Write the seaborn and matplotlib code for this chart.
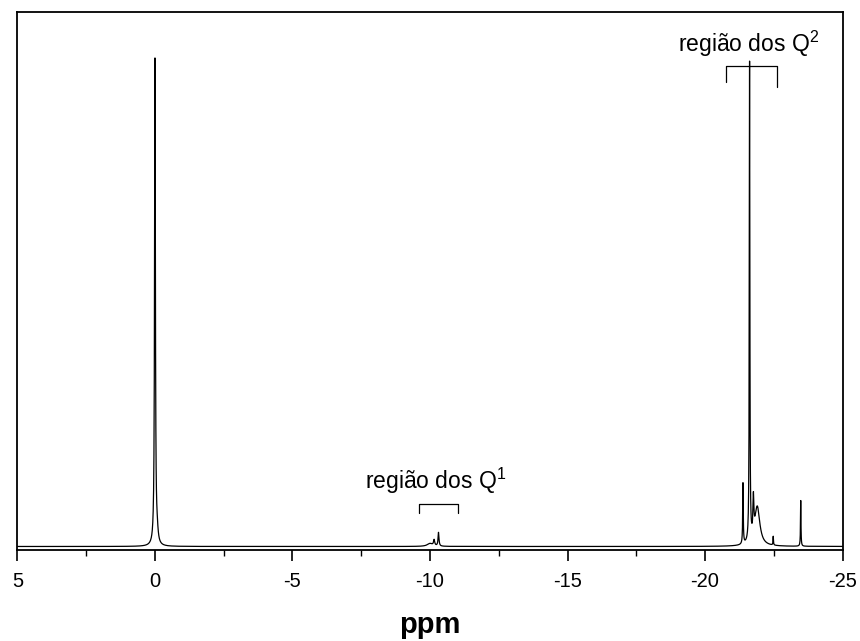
import numpy as np
import pandas as pd
import matplotlib
matplotlib.use("Agg")
import matplotlib.pyplot as plt
import seaborn as sns

# Peak table of the 29Si spectrum: position (ppm), height (relative), half-width (ppm)
peak_ppm = [0.0, -0.08, -10.0, -10.15, -10.31, -21.38, -21.62, -21.76, -21.90, -22.48, -23.48]
peak_height = [1.0, 0.02, 0.006, 0.012, 0.028, 0.125, 0.985, 0.075, 0.08, 0.018, 0.094]
peak_hwhm = [0.018, 0.04, 0.12, 0.025, 0.02, 0.012, 0.012, 0.02, 0.11, 0.01, 0.01]

x_ticks = [5, 0, -5, -10, -15, -20, -25]

ppm = np.linspace(5, -25, 12001)
intensity = np.zeros_like(ppm)
for p, h, w in zip(peak_ppm, peak_height, peak_hwhm):
    intensity += h * w**2 / ((ppm - p) ** 2 + w**2)

df = pd.DataFrame({"ppm": ppm, "intensity": intensity})

sns.set_style("ticks")
plt.rcParams["font.family"] = ["Liberation Sans", "DejaVu Sans"]
plt.rcParams["text.color"] = "black"
plt.rcParams["axes.labelcolor"] = "black"
plt.rcParams["xtick.color"] = "black"
plt.rcParams["mathtext.fontset"] = "custom"
plt.rcParams["mathtext.rm"] = "Liberation Sans"

fig = plt.figure(figsize=(8.6, 6.41), dpi=100)
ax = fig.add_axes([0.0203, 0.142, 0.9594, 0.8397])
sns.lineplot(data=df, x="ppm", y="intensity", color="black", linewidth=0.9, ax=ax)

ax.set_xlim(5, -25)
ax.set_ylim(-0.0072, 1.099)
ax.set_xticks(x_ticks)
ax.set_xticklabels([str(t) for t in x_ticks], fontsize=14.5, color="black")
ax.set_xticks(np.arange(5, -25.1, -2.5), minor=True)
ax.tick_params(axis="x", which="major", direction="out", length=8, width=1.2, pad=8, colors="black")
ax.tick_params(axis="x", which="minor", direction="out", length=4.5, width=1.0, colors="black")
ax.set_yticks([])
ax.set_ylabel("")
ax.set_xlabel("ppm", fontsize=21, fontweight="bold", labelpad=14, color="black")
for s in ax.spines.values():
    s.set_visible(True)
    s.set_linewidth(1.3)
    s.set_color("black")

# Q1 region bracket
ax.plot([-9.6, -9.6, -11.0, -11.0], [0.068, 0.087, 0.087, 0.068], color="black", lw=0.9)
ax.text(-10.22, 0.118, "região dos Q$^\\mathrm{1}$", ha="center", va="baseline",
        fontsize=16.5, color="black")

# Q2 region bracket
ax.plot([-20.77, -20.77, -22.6, -22.6], [0.955, 0.988, 0.988, 0.944], color="black", lw=0.9)
ax.text(-21.57, 1.017, "região dos Q$^\\mathrm{2}$", ha="center", va="baseline",
        fontsize=16.5, color="black")

fig.savefig("out.png", dpi=100)
